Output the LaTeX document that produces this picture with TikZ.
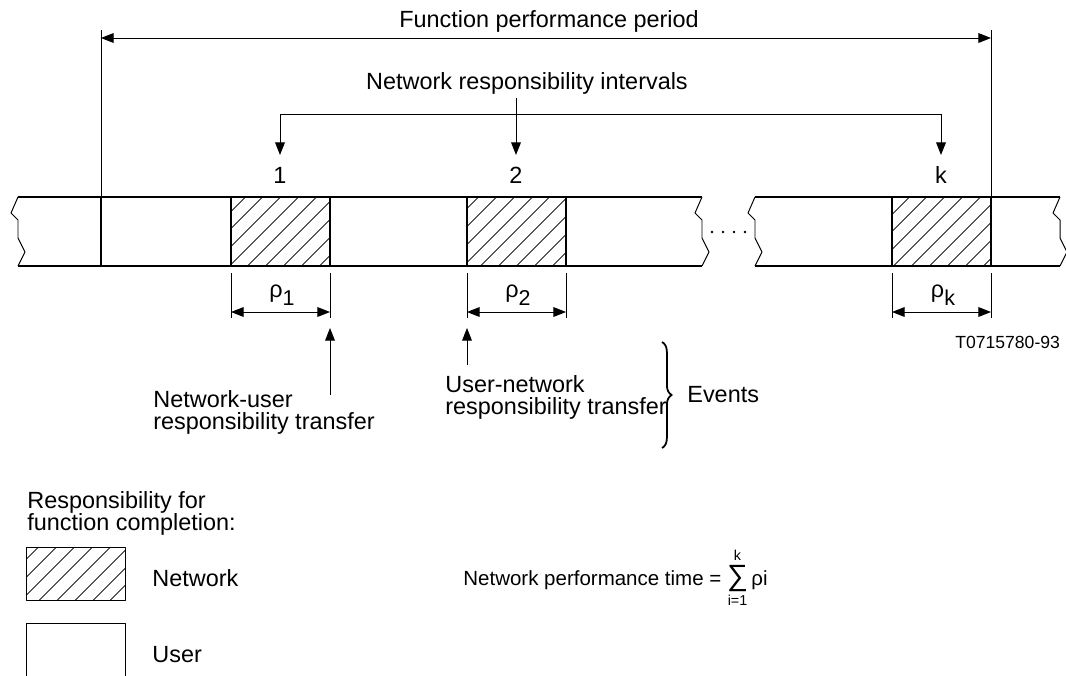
\documentclass[tikz,border=0pt]{standalone}
\usepackage{amsmath}
\usepackage{fontspec}
\setmainfont{Liberation Sans}
\usetikzlibrary{arrows.meta,patterns.meta,decorations.pathreplacing}

\newcommand{\rsub}[1]{\raisebox{-0.35em}{\fontsize{11}{11}\selectfont #1}}

\begin{document}
\begin{tikzpicture}[x=0.018cm, y=-0.018cm, line join=round,
  bar/.style={line width=1.1pt},
  thinline/.style={line width=0.5pt},
  dim/.style={thinline, {Triangle[length=6.5pt,width=5pt]}-{Triangle[length=6.5pt,width=5pt]}},
  tip/.style={thinline, -{Triangle[length=6.5pt,width=5pt]}},
  hatch/.style={pattern={Lines[angle=45,distance=6.5pt,line width=0.4pt]}},
  jagged/.style={insert path={-- ++(-7,16) -- ++(7,7) -- ++(0,18) -- ++(7,14) -- ++(-7,14)}},
  lbl/.style={font=\fontsize{12}{11.5}\selectfont, inner sep=0pt}]
\useasboundingbox (0,0) rectangle (1066,675);

% function performance period
\coordinate (pL) at (101,38);
\coordinate (pR) at (991,38);
\draw[thinline] (101,30) -- (101,197);
\draw[thinline] (991,30) -- (991,197);
\draw[dim] (pL) -- (pR);
\node[lbl, anchor=base] (period) at (549,27) {Function performance period};

% network responsibility intervals
\node[lbl, anchor=base] (intervals) at (527,89) {Network responsibility intervals};
\coordinate (stem) at (516,98);
\coordinate (brL) at (280,114);
\coordinate (brM) at (516,114);
\coordinate (brR) at (941,114);
\coordinate (a1) at (280,155);
\coordinate (a2) at (516,155);
\coordinate (ak) at (941,155);
\draw[thinline] (brL) -- (brR);
\draw[thinline] (stem) -- (brM);
\draw[tip] (brL) -- (a1);
\draw[tip] (brM) -- (a2);
\draw[tip] (brR) -- (ak);
\node[lbl, anchor=base] (n1) at (280,183) {1};
\node[lbl, anchor=base] (n2) at (516,183) {2};
\node[lbl, anchor=base] (nk) at (941,183) {k};

% time bar
\draw[thinline] (18,197) [jagged];
\draw[bar] (18,197) -- (702,197) (18,266) -- (702,266);
\draw[thinline] (702,197) [jagged];
\draw[thinline] (755,197) [jagged];
\draw[bar] (755,197) -- (1060,197) (755,266) -- (1060,266);
\draw[thinline] (1060,197) [jagged];
\draw[bar] (101,197) -- (101,266);
\foreach \a/\b in {231/330, 467/566, 892/991}
  \draw[bar, hatch] (\a,197) rectangle (\b,266);
\foreach \x in {712,723,734,745}
  \fill (\x,232) circle[radius=0.7pt];

% intervals rho
\foreach \x in {231,330,467,566,892,991}
  \draw[thinline] (\x,273) -- (\x,318);
\coordinate (r1a) at (231,312); \coordinate (r1b) at (330,312);
\coordinate (r2a) at (467,312); \coordinate (r2b) at (566,312);
\coordinate (rka) at (892,312); \coordinate (rkb) at (991,312);
\draw[dim] (r1a) -- (r1b);
\draw[dim] (r2a) -- (r2b);
\draw[dim] (rka) -- (rkb);
\node[lbl, anchor=base] (rho1) at (282,297) {ρ\rsub{1}};
\node[lbl, anchor=base] (rho2) at (518,297) {ρ\rsub{2}};
\node[lbl, anchor=base] (rhok) at (943,297) {ρ\rsub{k}};
\node[font=\fontsize{9}{9}\selectfont, inner sep=0pt, anchor=base west] (tag) at (955,348) {T0715780-93};

% events
\coordinate (nuTail) at (330,395); \coordinate (nuTip) at (330,328);
\coordinate (unTail) at (467,365); \coordinate (unTip) at (467,328);
\draw[tip] (nuTail) -- (nuTip);
\draw[tip] (unTail) -- (unTip);
\node[lbl, anchor=north west, align=left] (nutext) at (153,390) {Network-user\\responsibility transfer};
\node[lbl, anchor=north west, align=left] (untext) at (445,375) {User-network\\responsibility transfer};
\coordinate (bTop) at (662,342); \coordinate (bBot) at (662,448);
\draw[line width=0.9pt, decorate, decoration={brace, amplitude=5pt}] (bTop) -- (bBot);
\node[lbl, anchor=base west] (events) at (687,402) {Events};

% legend
\node[lbl, anchor=north west, align=left] (legend) at (27,491) {Responsibility for\\function completion:};
\draw[thinline, hatch] (26,547) rectangle (125,600);
\node[lbl, anchor=base west] (netkey) at (152,586) {Network};
\draw[thinline] (26,690) -- (26,623) -- (125,623) -- (125,690);
\node[lbl, anchor=base west] (userkey) at (152,662) {User};

\node[font=\fontsize{10.5}{12}\selectfont, inner sep=0pt, anchor=base west] (formula) at (463,585)
  {Network performance time = $\mathop{\text{\fontsize{15}{15}\selectfont ∑}}\limits_{\text{i=1}}^{\text{k}}$\,ρi};
\end{tikzpicture}
\end{document}
